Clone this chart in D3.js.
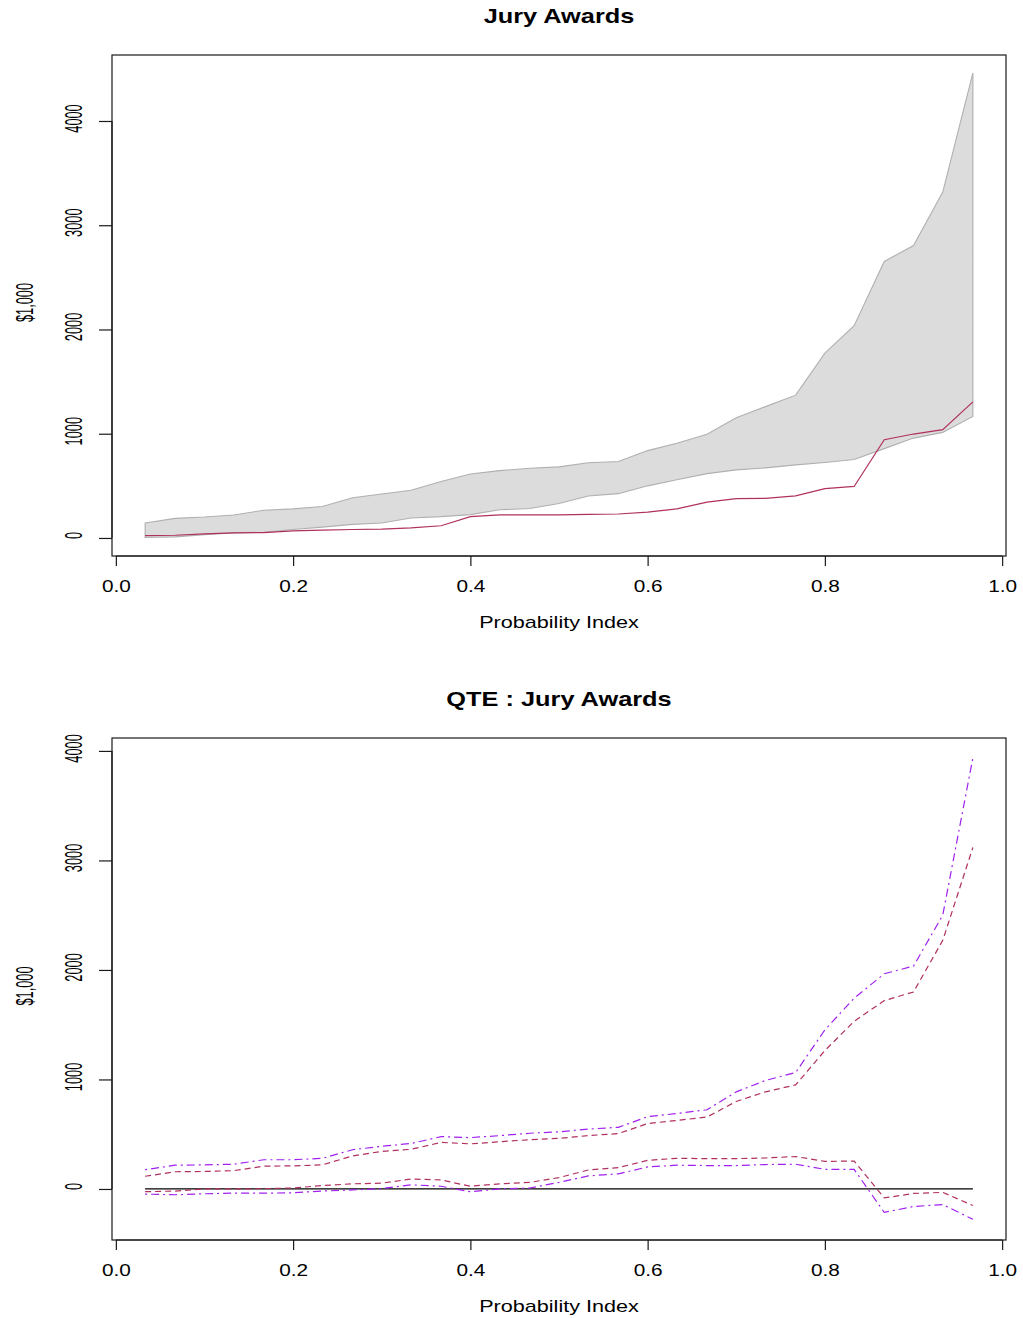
<!DOCTYPE html>
<html>
<head>
<meta charset="utf-8">
<script src="https://cdn.jsdelivr.net/npm/d3@7"></script>
<style>
  html, body { margin: 0; padding: 0; background: #fff; }
  svg { display: block; }
  text { font-family: "Liberation Sans", Arial, Helvetica, sans-serif; fill: #000; }
</style>
</head>
<body>
<svg id="chart" width="1023" height="1318"></svg>
<script>
// ---------------- DATA ----------------
const probIndex = [0.033,0.067,0.100,0.133,0.167,0.200,0.233,0.267,0.300,0.333,0.367,0.400,0.433,0.467,0.500,
                   0.533,0.567,0.600,0.633,0.667,0.700,0.733,0.767,0.800,0.833,0.867,0.900,0.933,0.967];

// Top panel: band (upper / lower) and central line
const bandUpper = [143,188,201,221,266,279,302,386,422,458,542,614,646,669,682,721,734,838,909,994,1153,1260,1370,1773,2036,2653,2805,3318,4461];
const bandLower = [5,10,32,49,55,81,104,130,143,192,205,224,270,282,331,403,425,500,558,617,653,672,701,724,753,857,958,1013,1166];
const awardLine = [23,26,39,49,52,68,75,81,84,97,117,205,221,221,221,227,230,247,279,344,377,380,403,474,494,942,997,1039,1305];

// Bottom panel: QTE bounds
const qtePurpleUpper = [176,217,220,226,267,267,280,358,390,415,478,469,487,509,522,547,563,660,689,723,887,991,1063,1453,1742,1965,2035,2500,3937];
const qteRedUpper    = [116,157,160,167,208,211,220,302,343,362,425,412,431,450,462,487,506,597,626,657,799,887,950,1264,1531,1720,1799,2270,3119];
const qteRedLower    = [-25,-19,0,0,3,9,31,47,53,91,82,25,47,60,104,173,195,261,280,277,277,283,296,252,255,-82,-41,-31,-151];
const qtePurpleLower = [-47,-53,-44,-38,-38,-35,-19,-9,3,38,25,-25,0,9,60,119,138,201,217,214,214,223,226,179,179,-214,-160,-142,-277];

const xTicks = [0.0,0.2,0.4,0.6,0.8,1.0];
const xTickLabels = ["0.0","0.2","0.4","0.6","0.8","1.0"];
const yTicks = [0,1000,2000,3000,4000];
const yTickLabels = ["0","1000","2000","3000","4000"];

const titles = ["Jury Awards", "QTE : Jury Awards"];
const xTitle = "Probability Index";
const yTitle = "$1,000";
const topYLimits = [-173, 4633];
const botYLimits = [-466, 4118];

// ---------------- LAYOUT ----------------
const svg = d3.select("#chart");
svg.append("rect").attr("width",1023).attr("height",1318).attr("fill","#fff");

const plotLeft = 112, plotRight = 1006;
const panels = [
  {top: 55, bottom: 556, ylim: topYLimits, title: titles[0]},
  {top: 738, bottom: 1240, ylim: botYLimits, title: titles[1]}
];

// R-style 4% extension of x range
const xr = d3.extent(probIndex);
const xpad = (xr[1]-xr[0])*0.04;
const x = d3.scaleLinear().domain([xr[0]-xpad, xr[1]+xpad]).range([plotLeft, plotRight]);

const MAROON = "#B03060", PURPLE = "#A020F0";
const AXIS_COL = "#1a1a1a";
const SX = 1.3;          // horizontal text stretch
const VLEN = 0.8, VTH = 1.45; // vertical text: along, across

function drawFrame(p, y) {
  const g = svg.append("g");
  // x axis
  const xa = g.append("g").attr("transform", `translate(0,${p.bottom})`)
    .call(d3.axisBottom(x).tickValues(xTicks).tickFormat((d,i)=>xTickLabels[i]).tickSize(10).tickSizeOuter(0));
  xa.select(".domain").attr("d", `M${x(xTicks[0])},0H${x(xTicks[xTicks.length-1])}`).attr("stroke", AXIS_COL).attr("stroke-width",1.2);
  xa.selectAll(".tick line").attr("stroke", AXIS_COL).attr("stroke-width",1.2);
  xa.selectAll(".tick text").attr("y", 0).attr("dy", 0)
    .attr("transform", `translate(0,36) scale(${SX},1)`)
    .style("font-size","16px").attr("fill","#000");

  // y axis
  const ya = g.append("g").attr("transform", `translate(${plotLeft},0)`)
    .call(d3.axisLeft(y).tickValues(yTicks).tickFormat((d,i)=>yTickLabels[i]).tickSize(13).tickSizeOuter(0));
  ya.select(".domain").attr("d", `M0,${y(yTicks[0])}V${y(yTicks[yTicks.length-1])}`).attr("stroke", AXIS_COL).attr("stroke-width",1.2);
  ya.selectAll(".tick line").attr("stroke", AXIS_COL).attr("stroke-width",1.2);
  ya.selectAll(".tick text").attr("x", 0).attr("dy", 0).attr("y", 0)
    .attr("text-anchor","middle")
    .attr("transform", `translate(-30,-3) rotate(-90) scale(${VLEN},${VTH})`)
    .style("font-size","16px").attr("fill","#000");
  ya.attr("font-family", null); xa.attr("font-family", null);

  // box
  g.append("rect").attr("x", plotLeft).attr("y", p.top)
    .attr("width", plotRight-plotLeft).attr("height", p.bottom-p.top)
    .attr("fill","none").attr("stroke", AXIS_COL).attr("stroke-width",1.2);

  // titles
  const cx = (plotLeft+plotRight)/2;
  g.append("text").attr("text-anchor","middle")
    .attr("transform", `translate(${cx},${p.top-32}) scale(1.3,1)`)
    .style("font-size","19.5px").style("font-weight","bold").text(p.title);
  g.append("text").attr("text-anchor","middle")
    .attr("transform", `translate(${cx},${p.bottom+72}) scale(1.35,1)`)
    .style("font-size","16px").text(xTitle);
  g.append("text").attr("text-anchor","middle")
    .attr("transform", `translate(33,${(p.top+p.bottom)/2-3}) rotate(-90) scale(${VLEN},${VTH})`)
    .style("font-size","16px").text(yTitle);
}

// ---------------- TOP PANEL ----------------
{
  const p = panels[0];
  const y = d3.scaleLinear().domain(p.ylim).range([p.bottom, p.top]);
  const bandData = probIndex.map((d,i)=>({x:d, lo:bandLower[i], hi:bandUpper[i]}));
  const area = d3.area().x(d=>x(d.x)).y0(d=>y(d.lo)).y1(d=>y(d.hi));
  svg.append("path").datum(bandData).attr("d", area)
    .attr("fill","#DCDCDC").attr("stroke","#B0B0B0").attr("stroke-width",1.1);
  const line = d3.line().x((d,i)=>x(probIndex[i])).y(d=>y(d));
  svg.append("path").datum(awardLine).attr("d", line)
    .attr("fill","none").attr("stroke", MAROON).attr("stroke-width",1.2);
  drawFrame(p, y);
}

// ---------------- BOTTOM PANEL ----------------
{
  const p = panels[1];
  const y = d3.scaleLinear().domain(p.ylim).range([p.bottom, p.top]);
  const line = d3.line().x((d,i)=>x(probIndex[i])).y(d=>y(d));
  // zero reference line
  svg.append("line")
    .attr("x1", x(probIndex[0])).attr("x2", x(probIndex[probIndex.length-1]))
    .attr("y1", y(0)).attr("y2", y(0))
    .attr("stroke","#000").attr("stroke-width",1.2);
  const series = [
    {v: qteRedUpper, c: MAROON, dash: "6,4"},
    {v: qteRedLower, c: MAROON, dash: "6,4"},
    {v: qtePurpleUpper, c: PURPLE, dash: "2,4,8,4"},
    {v: qtePurpleLower, c: PURPLE, dash: "2,4,8,4"}
  ];
  series.forEach(s=>{
    svg.append("path").datum(s.v).attr("d", line)
      .attr("fill","none").attr("stroke", s.c).attr("stroke-width",1.2)
      .attr("stroke-dasharray", s.dash);
  });
  drawFrame(p, y);
}
</script>
</body>
</html>
